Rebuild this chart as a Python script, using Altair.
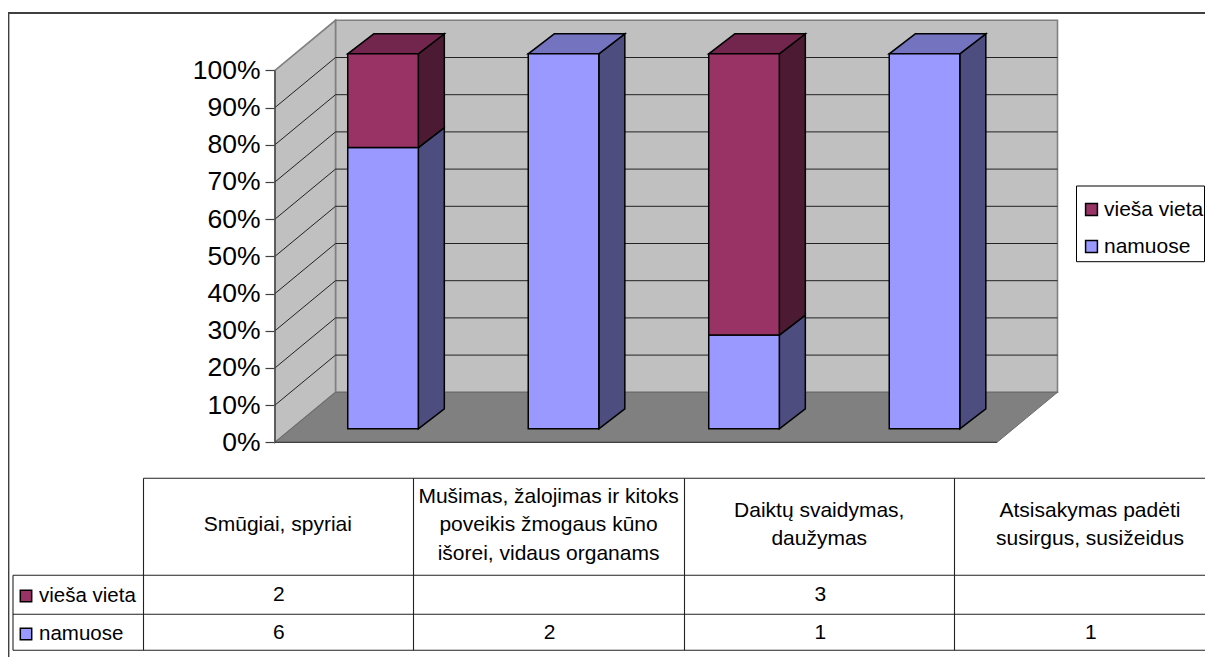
import altair as alt
import pandas as pd

# ---- data ----
categories = ["Smūgiai, spyriai",
              "Mušimas, žalojimas ir kitoks\npoveikis žmogaus kūno\nišorei, vidaus organams",
              "Daiktų svaidymas,\ndaužymas",
              "Atsisakymas padėti\nsusirgus, susižeidus"]
series_names = ["vieša vieta", "namuose"]
viesa_vieta = [2, None, 3, None]
namuose = [6, 2, 1, 1]
percent_ticks = [0, 10, 20, 30, 40, 50, 60, 70, 80, 90, 100]

# ---- styling ----
FONT = "Liberation Sans"
C_FRONT = {"vieša vieta": "#993366", "namuose": "#9999FF"}
C_SIDE = {"vieša vieta": "#4D1A33", "namuose": "#4D4D80"}
C_TOP = {"vieša vieta": "#73264D", "namuose": "#7373BF"}

# ---- layout: page pixels <-> chart units ----
W, H = 1197, 649
X0, CAT_W = 275.0, 180.5      # page x of category 0, px per category
Y0, PCT_H = 442.3, 3.72       # page y of 0 %, px per percent
DEPTH_X = 60.5 / CAT_W        # full depth shift, in category units
DEPTH_Y = 50.0 / PCT_H        # full depth shift, in percent units
BAR_START, BAR_W = 0.3125, 0.391
BAR_D0, BAR_D1, BAR_D1_Y = 0.27, 0.70, 0.67
BAR_STRETCH = 1.008

def ux(px):
    return (px - X0) / CAT_W

def uy(py):
    return (Y0 - py) / PCT_H

def proj(c, v, d, d_y=None):
    return c + d * DEPTH_X, v + (d if d_y is None else d_y) * DEPTH_Y

x_scale = alt.Scale(domain=[ux(8), ux(8 + W)], nice=False, zero=False)
y_scale = alt.Scale(domain=[uy(8 + H), uy(8)], nice=False, zero=False)
y_axis = alt.Axis(values=percent_ticks, labelExpr="datum.value + '%'", grid=False, domain=False,
                  offset=-(X0 - 8), tickSize=10, tickColor="#404040", tickWidth=1.2,
                  labelFont=FONT, labelFontSize=26.5, labelColor="black", labelPadding=5,
                  labelOverlap=False, labelBaseline="middle", ticks=True, title=None)
X = lambda f="x": alt.X(f"{f}:Q", scale=x_scale, axis=None)
Y = lambda f="y": alt.Y(f"{f}:Q", scale=y_scale, title=None, axis=y_axis)

# ---- walls and floor ----
n = len(categories)
wall_back = pd.DataFrame([{"x": proj(0, 0, 1)[0], "x2": proj(n, 0, 1)[0],
                           "y": proj(0, 0, 1)[1], "y2": proj(0, 100, 1)[1]}])
wall_left = pd.DataFrame([{"x": proj(0, 0, d)[0], "y": proj(0, 0, d)[1], "y2": proj(0, 100, d)[1]}
                          for d in (0, 1)])
floor = pd.DataFrame([{"y": proj(0, 0, d)[1], "x": proj(0, 0, d)[0], "x2": proj(n, 0, d)[0]}
                      for d in (0, 1)])

back_mark = alt.Chart(wall_back).mark_rect(fill="#C0C0C0", stroke="#808080", strokeWidth=1.6).encode(
    x=X(), x2="x2:Q", y=Y(), y2="y2:Q")
left_wall = alt.Chart(wall_left).mark_area(fill="#C0C0C0", stroke="#808080", strokeWidth=1.6).encode(
    x=X(), y=Y(), y2="y2:Q")
floor_mark = alt.Chart(floor).mark_area(orient="horizontal", fill="#808080", stroke="#6a6a6a", strokeWidth=1).encode(
    y=Y(), x=alt.X("x:Q", scale=x_scale, axis=None), x2="x2:Q")

# ---- grid lines: across the left wall, then along the back wall ----
grid_rows = []
for v in percent_ticks[1:-1]:
    for c, d in ((0, 0), (0, 1), (n, 1)):
        px, py = proj(c, v, d)
        grid_rows.append({"tick": v, "x": px, "y": py})
grid = alt.Chart(pd.DataFrame(grid_rows)).mark_line(color="#222222", strokeWidth=1).encode(
    x=X(), y=Y(), detail="tick:N")

axis_line_df = pd.DataFrame([{"x": 0, "y": 0, "y2": 100}])
axis_line = alt.Chart(axis_line_df).mark_rule(color="#404040", strokeWidth=1.3).encode(
    x=X(), y=Y(), y2="y2:Q")
front_edge_df = pd.DataFrame([{"x": 0, "x2": n, "y": 0}])
front_edge = alt.Chart(front_edge_df).mark_rule(color="#404040", strokeWidth=1.3).encode(
    x=X(), x2="x2:Q", y=Y())

# ---- bars (100 % stacked, drawn as oblique boxes) ----
front, side, top = [], [], []
for i in range(n):
    a, b = namuose[i] or 0, viesa_vieta[i] or 0
    total = a + b
    left = i + BAR_START
    right = left + BAR_W
    low = 0.0
    for name, val in (("namuose", a), ("vieša vieta", b)):
        if not val:
            continue
        high = low + val / total * 100
        lo, hi = low * BAR_STRETCH, high * BAR_STRETCH
        x0, y0 = proj(left, lo, BAR_D0)
        x1, y1 = proj(right, hi, BAR_D0)
        front.append({"series": name, "x": x0, "x2": x1, "y": y0, "y2": y1, "key": f"{i}{name}"})
        for d, d_y in ((BAR_D0, BAR_D0), (BAR_D1, BAR_D1_Y)):
            px, py = proj(right, lo, d, d_y)
            _, py2 = proj(right, hi, d, d_y)
            side.append({"key": f"{i}{name}", "fill": C_SIDE[name], "x": px, "y": py, "y2": py2})
        if high >= 99.999:
            for d, d_y in ((BAR_D0, BAR_D0), (BAR_D1, BAR_D1_Y)):
                px, py = proj(left, hi, d, d_y)
                px2, _ = proj(right, hi, d, d_y)
                top.append({"key": f"{i}{name}", "fill": C_TOP[name], "x": px, "x2": px2, "y": py})
        low = high

side_mark = alt.Chart(pd.DataFrame(side)).mark_area(stroke="black", strokeWidth=1.5).encode(
    x=X(), y=Y(), y2="y2:Q", fill=alt.Fill("fill:N", scale=None), detail="key:N")
top_mark = alt.Chart(pd.DataFrame(top)).mark_area(orient="horizontal", stroke="black", strokeWidth=1.5).encode(
    y=Y(), x=alt.X("x:Q", scale=x_scale, axis=None), x2="x2:Q",
    fill=alt.Fill("fill:N", scale=None), detail="key:N")
front_mark = alt.Chart(pd.DataFrame(front)).mark_rect(stroke="black", strokeWidth=1.5).encode(
    x=X(), x2="x2:Q", y=Y(), y2="y2:Q",
    color=alt.Color("series:N",
                    scale=alt.Scale(domain=series_names, range=[C_FRONT[s] for s in series_names]),
                    legend=alt.Legend(orient="none", legendX=1073, legendY=191, title=None,
                                      symbolType="square", symbolSize=140, symbolStrokeColor="black",
                                      symbolStrokeWidth=1.5, labelFont=FONT, labelFontSize=21,
                                      labelColor="black", labelOffset=2, rowPadding=15, padding=0,
                                      labelLimit=200)))

# ---- frame ----
TABLE_COLS = [143.5, 413.5, 684.5, 954.5]
ROW_TOP, ROW_HEAD, ROW_1, ROW_2 = 478.3, 575.3, 614.3, 650.3
RIGHT = 8 + W
frame_h = pd.DataFrame([{"x": ux(8), "x2": ux(RIGHT), "y": uy(13)}])
frame_v = pd.DataFrame([{"x": ux(8.5), "y": uy(13), "y2": uy(8 + H)}])
frame_layer = (alt.Chart(frame_h).mark_rule(color="#404040", strokeWidth=1.8).encode(x=X(), x2="x2:Q", y=Y()) +
               alt.Chart(frame_v).mark_rule(color="#404040", strokeWidth=1.8).encode(x=X(), y=Y(), y2="y2:Q"))

# ---- legend box ----
legend_box_df = pd.DataFrame([{"x": ux(1076.5), "x2": ux(1204.5), "y": uy(186), "y2": uy(261.7)}])
legend_box = alt.Chart(legend_box_df).mark_rect(fill="white", stroke="black", strokeWidth=1).encode(
    x=X(), x2="x2:Q", y=Y(), y2="y2:Q")

# ---- data table ----
h_lines = pd.DataFrame([
    {"x": ux(TABLE_COLS[0]), "x2": ux(RIGHT), "y": uy(ROW_TOP)},
    {"x": ux(13), "x2": ux(RIGHT), "y": uy(ROW_HEAD)},
    {"x": ux(13), "x2": ux(RIGHT), "y": uy(ROW_1)},
    {"x": ux(13), "x2": ux(RIGHT), "y": uy(ROW_2)},
])
v_lines = pd.DataFrame(
    [{"x": ux(13), "y": uy(ROW_HEAD), "y2": uy(ROW_2)}] +
    [{"x": ux(c), "y": uy(ROW_TOP), "y2": uy(ROW_2)} for c in TABLE_COLS])
table_h = alt.Chart(h_lines).mark_rule(color="#222222", strokeWidth=1.1).encode(x=X(), x2="x2:Q", y=Y())
table_v = alt.Chart(v_lines).mark_rule(color="#222222", strokeWidth=1.1).encode(x=X(), y=Y(), y2="y2:Q")

CELL_W = 270.7
LINE_H = 28.5
HEAD_MID = 525.0
texts = []
for i, cat in enumerate(categories):
    cx = TABLE_COLS[0] + CELL_W * (i + 0.5)
    lines = cat.split("\n")
    for j, line in enumerate(lines):
        texts.append({"t": line, "x": ux(cx - 1), "y": uy(HEAD_MID + (j - (len(lines) - 1) / 2) * LINE_H)})
    for vals, row_y in ((viesa_vieta, 595.0), (namuose, 632.7)):
        if vals[i] is not None:
            texts.append({"t": str(vals[i]), "x": ux(cx), "y": uy(row_y)})
table_text = alt.Chart(pd.DataFrame(texts)).mark_text(font=FONT, fontSize=21, color="black",
                                                      align="center", baseline="middle").encode(
    x=X(), y=Y(), text="t:N")

row_labels = pd.DataFrame([
    {"t": series_names[0], "x": ux(39), "kx": ux(26), "y": uy(596), "fill": C_FRONT[series_names[0]]},
    {"t": series_names[1], "x": ux(39), "kx": ux(26), "y": uy(634), "fill": C_FRONT[series_names[1]]},
])
row_text = alt.Chart(row_labels).mark_text(font=FONT, fontSize=20.5, color="black", align="left",
                                           baseline="middle").encode(x=X(), y=Y(), text="t:N")
row_key = alt.Chart(row_labels).mark_point(shape="square", filled=True, size=130, stroke="black", strokeWidth=1.5,
                                           opacity=1).encode(
    x=X("kx"), y=Y(), fill=alt.Fill("fill:N", scale=None))

chart = alt.layer(
    back_mark, left_wall, floor_mark, grid, axis_line, front_edge,
    side_mark, top_mark, legend_box, front_mark,
    frame_layer, table_h, table_v, table_text, row_text, row_key
).properties(
    width=W, height=H, padding=0, background="white",
    autosize=alt.AutoSizeParams(type="none")
).configure_view(strokeWidth=0)

chart.save("out.html", embed_options={"renderer": "svg", "actions": False})
